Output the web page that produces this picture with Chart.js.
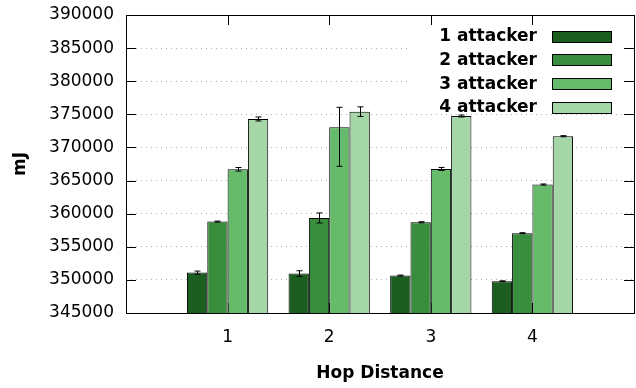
<!DOCTYPE html>
<html>
<head>
<meta charset="utf-8">
<script src="https://cdn.jsdelivr.net/npm/chart.js@4"></script>
<style>
  body { margin: 0; background: #fff; }
  #wrap { width: 636px; height: 388px; }
</style>
</head>
<body>
<div id="wrap"><canvas id="barChart"></canvas></div>
<script>
var hops = ['', '1', '2', '3', '4', ''];
var seriesNames = ['1 attacker', '2 attacker', '3 attacker', '4 attacker'];
var colors = ['#1c5e20', '#398e3d', '#66bb6a', '#a5d6a7'];

// mean energy per hop distance (mJ)
var att1 = [null, 351100, 350950, 350650, 349800, null];
var att2 = [null, 358800, 359350, 358700, 357050, null];
var att3 = [null, 366700, 373050, 366750, 364400, null];
var att4 = [null, 374300, 375400, 374750, 371700, null];

// error bar ends
var att1Low = [null, 350870, 350520, 350570, 349740, null];
var att1High = [null, 351330, 351380, 350730, 349860, null];
var att2Low = [null, 358720, 358590, 358620, 356970, null];
var att2High = [null, 358880, 360110, 358780, 357130, null];
var att3Low = [null, 366430, 367150, 366520, 364320, null];
var att3High = [null, 366970, 376060, 366980, 364480, null];
var att4Low = [null, 374000, 374680, 374600, 371620, null];
var att4High = [null, 374600, 376130, 374900, 371780, null];

var yTicks = [345000, 350000, 355000, 360000, 365000, 370000, 375000, 380000, 385000, 390000];

var means = [att1, att2, att3, att4];
var lows = [att1Low, att2Low, att3Low, att4Low];
var highs = [att1High, att2High, att3High, att4High];

var font = '"DejaVu Sans", Verdana, sans-serif';

var errorBars = {
    id: 'errorBars',
    afterDatasetsDraw: function (chart) {
        var c = chart.ctx, ys = chart.scales.y;
        c.save();
        c.strokeStyle = '#000';
        c.lineWidth = 1;
        chart.data.datasets.forEach(function (ds, i) {
            var meta = chart.getDatasetMeta(i);
            meta.data.forEach(function (bar, j) {
                if (lows[i][j] == null) return;
                var x = Math.round(bar.x) + 0.5;
                var y1 = ys.getPixelForValue(lows[i][j]);
                var y2 = ys.getPixelForValue(highs[i][j]);
                c.beginPath();
                c.moveTo(x, y1); c.lineTo(x, y2);
                c.moveTo(x - 3, y1); c.lineTo(x + 3, y1);
                c.moveTo(x - 3, y2); c.lineTo(x + 3, y2);
                c.stroke();
            });
        });
        c.restore();
    }
};

var frame = {
    id: 'frame',
    beforeDatasetsDraw: function (chart) {
        var c = chart.ctx, a = chart.chartArea;
        // opaque key background
        c.save();
        c.fillStyle = '#fff';
        c.fillRect(408, 19, 216, 94);
        // tick marks pointing inward
        c.strokeStyle = '#000';
        c.lineWidth = 1;
        c.beginPath();
        chart.scales.y.ticks.forEach(function (t) {
            var y = Math.round(chart.scales.y.getPixelForValue(t.value)) + 0.5;
            c.moveTo(a.left, y); c.lineTo(a.left + 10, y);
            c.moveTo(a.right, y); c.lineTo(a.right - 10, y);
        });
        for (var k = 1; k < hops.length - 1; k++) {
            var x = Math.round(chart.scales.x.getPixelForValue(k)) + 0.5;
            c.moveTo(x, a.top); c.lineTo(x, a.top + 10);
            c.moveTo(x, a.bottom); c.lineTo(x, a.bottom - 10);
        }
        c.stroke();
        c.restore();
    },
    afterDatasetsDraw: function (chart) {
        var c = chart.ctx, a = chart.chartArea;
        c.save();
        c.strokeStyle = '#000';
        c.lineWidth = 1;
        c.strokeRect(Math.round(a.left) + 0.5, Math.round(a.top) + 0.5,
            Math.round(a.right - a.left), Math.round(a.bottom - a.top));
        // key
        c.font = 'bold 17px ' + font;
        c.textAlign = 'right';
        c.textBaseline = 'middle';
        chart.data.datasets.forEach(function (ds, i) {
            var y = 36.5 + i * 23.8;
            c.fillStyle = '#000';
            c.fillText(ds.label, 537, y);
            c.fillStyle = ds.backgroundColor;
            c.fillRect(552, Math.round(y - 6), 60, 12);
            c.strokeRect(552.5, Math.round(y - 6) + 0.5, 59, 11);
        });
        c.restore();
    }
};

var ctx = document.getElementById('barChart').getContext('2d');
var myChart = new Chart(ctx, {
    type: 'bar',
    data: {
        labels: hops,
        datasets: means.map(function (vals, i) {
            return {
                label: seriesNames[i],
                data: vals,
                backgroundColor: colors[i],
                borderColor: '#000',
                borderWidth: 1,
                borderSkipped: false
            };
        })
    },
    plugins: [frame, errorBars],
    options: {
        responsive: true,
        maintainAspectRatio: false,
        animation: false,
        layout: { padding: { top: 15, right: 2, left: 0, bottom: 0 } },
        datasets: { bar: { categoryPercentage: 0.8, barPercentage: 1 } },
        plugins: {
            legend: { display: false },
            tooltip: { enabled: false }
        },
        scales: {
            x: {
                offset: false,
                grid: {
                    display: true,
                    drawOnChartArea: false,
                    color: 'transparent',
                    tickColor: 'transparent',
                    drawTicks: true,
                    tickLength: 14
                },
                border: { display: false },
                ticks: {
                    color: '#000',
                    font: { family: font, size: 17 },
                    padding: 0,
                    maxRotation: 0,
                    autoSkip: false
                },
                title: {
                    display: true,
                    text: 'Hop Distance',
                    color: '#000',
                    font: { family: font, size: 17, weight: 'bold' },
                    padding: { top: 14, bottom: 4 }
                },
                afterFit: function (s) { s.height = 75; }
            },
            y: {
                min: 345000,
                max: 390000,
                afterBuildTicks: function (s) {
                    s.ticks = yTicks.map(function (v) { return { value: v }; });
                },
                grid: {
                    color: '#b0b0b0',
                    lineWidth: 1,
                    drawTicks: true,
                    tickLength: 10,
                    tickColor: 'transparent'
                },
                border: { display: false, dash: [1, 4] },
                ticks: {
                    color: '#000',
                    font: { family: font, size: 17 },
                    padding: 2,
                    callback: function (v) { return String(v); }
                },
                title: {
                    display: true,
                    text: 'mJ',
                    color: '#000',
                    font: { family: font, size: 17, weight: 'bold' },
                    padding: { top: 10, bottom: 0 }
                },
                afterFit: function (s) { s.width = 126; }
            }
        }
    }
});
</script>
</body>
</html>
